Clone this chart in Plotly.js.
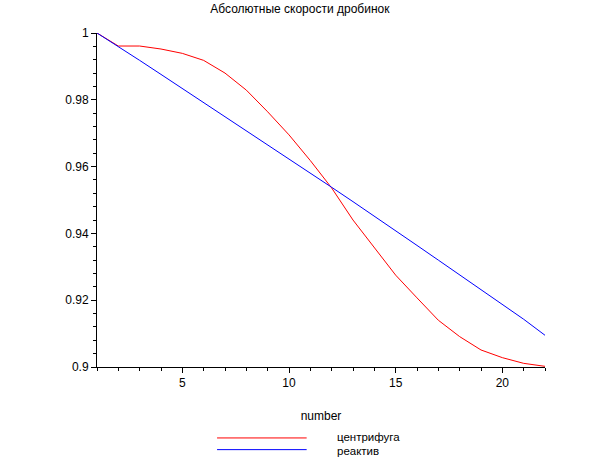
<!DOCTYPE html>
<html>
<head>
<meta charset="utf-8">
<script src="https://cdn.plot.ly/plotly-3.0.1.min.js"></script>
<style>html,body{margin:0;padding:0;background:#fff;}#chart{width:612px;height:475px;}</style>
</head>
<body>
<div id="chart"></div>
<script>
const numbers = [1,2,3,4,5,6,7,8,9,10,11,12,13,14,15,16,17,18,19,20,21,22];
const centrifuge = [1.0,0.9961,0.9961,0.9952,0.9939,0.9918,0.9880,0.9829,0.9764,0.9695,0.9618,0.9536,0.9440,0.9356,0.9275,0.9207,0.9140,0.9091,0.9051,0.9028,0.9011,0.9002];
const reactive = [1.0,0.9960,0.9918,0.9876,0.9834,0.9792,0.9750,0.9708,0.9666,0.9624,0.9581,0.9538,0.9495,0.9452,0.9408,0.9364,0.9320,0.9276,0.9232,0.9188,0.9143,0.9095];
const seriesNames = ["центрифуга","реактив"];
const titleText = "Абсолютные скорости дробинок";
const xTitle = "number";

const FONT = "Liberation Sans, Arial, sans-serif";
const colors = ["#ff0000","#0000ff"];

const traces = [
  {x: numbers, y: centrifuge, type: "scatter", mode: "lines", name: seriesNames[0], line: {color: colors[0], width: 1}},
  {x: numbers, y: reactive, type: "scatter", mode: "lines", name: seriesNames[1], line: {color: colors[1], width: 1}}
];

const legY = [-0.2124, -0.2474];
const textY = [-0.2094, -0.2504];
const shapes = legY.map((y, i) => ({type: "line", xref: "paper", yref: "paper", x0: 0.268, x1: 0.468, y0: y, y1: y, line: {color: colors[i], width: 1}}));
const annotations = textY.map((y, i) => ({xref: "paper", yref: "paper", x: 0.531, y: y, xanchor: "left", yanchor: "middle", text: seriesNames[i], showarrow: false, font: {family: FONT, size: 11.5, color: "#000"}}));

const layout = {
  width: 612, height: 475,
  margin: {l: 97, r: 67, t: 33, b: 108, pad: 0},
  paper_bgcolor: "#fff", plot_bgcolor: "#fff",
  showlegend: false,
  font: {family: FONT, size: 12, color: "#000"},
  title: {text: titleText, x: 0.49, xref: "container", xanchor: "center", y: 0.982, yanchor: "middle", font: {family: FONT, size: 12, color: "#000"}},
  xaxis: {
    range: [1, 22], showgrid: false, zeroline: false,
    showline: true, linecolor: "#000", linewidth: 1,
    ticks: "outside", ticklen: 5, tickcolor: "#000", tickwidth: 1,
    tickvals: [5,10,15,20], ticktext: ["5","10","15","20"],
    minor: {dtick: 1, tick0: 0, ticks: "outside", ticklen: 3, tickcolor: "#000", showgrid: false},
    tickfont: {family: FONT, size: 12, color: "#000"},
    title: {text: xTitle, standoff: 22, font: {family: FONT, size: 12, color: "#000"}},
    fixedrange: true
  },
  yaxis: {
    range: [0.9, 1.0], showgrid: false, zeroline: false,
    showline: true, linecolor: "#000", linewidth: 1,
    ticks: "outside", ticklen: 5, tickcolor: "#000", tickwidth: 1,
    tickvals: [0.9,0.92,0.94,0.96,0.98,1.0], ticktext: ["0.9","0.92","0.94","0.96","0.98","1"],
    minor: {dtick: 0.004, tick0: 0.9, ticks: "outside", ticklen: 3, tickcolor: "#000", showgrid: false},
    tickfont: {family: FONT, size: 12, color: "#000"},
    fixedrange: true
  },
  shapes: shapes,
  annotations: annotations
};

Plotly.newPlot("chart", traces, layout, {staticPlot: true, displayModeBar: false});
</script>
</body>
</html>
